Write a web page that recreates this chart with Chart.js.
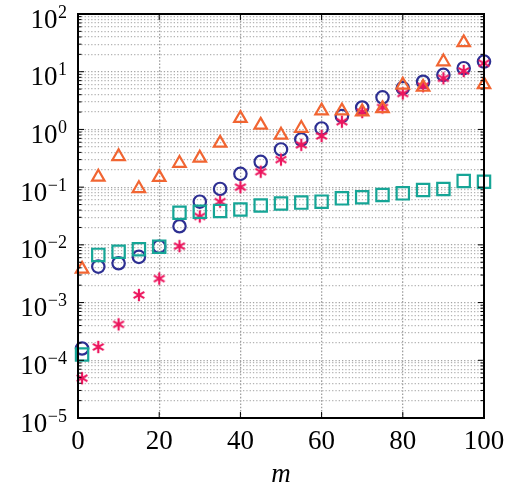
<!DOCTYPE html>
<html>
<head>
  <title>Log scatter</title>
  <script src="https://cdn.jsdelivr.net/npm/chart.js"></script>
  <style>
    body { margin: 0; background: #fff; }
  </style>
</head>
<body>
<canvas id="myChart" width="508" height="490"></canvas>

<script>
// data
var mValues = [1, 5, 10, 15, 20, 25, 30, 35, 40, 45, 50, 55, 60, 65, 70, 75, 80, 85, 90, 95, 100];
var triangles = [0.0038, 0.15, 0.34, 0.095, 0.148, 0.26, 0.32, 0.58, 1.56, 1.19, 0.80, 1.05, 2.1, 2.1, 2.03, 2.3, 5.9, 5.4, 14.9, 32, 6.0];
var circles = [1.6e-4, 0.0042, 0.0048, 0.0062, 0.0093, 0.021, 0.056, 0.093, 0.17, 0.275, 0.45, 0.67, 1.04, 1.7, 2.4, 3.6, 5.2, 6.7, 8.8, 11.5, 15];
var asterisks = [4.9e-5, 1.7e-4, 4.2e-4, 1.35e-3, 2.6e-3, 0.0095, 0.031, 0.056, 0.10, 0.185, 0.30, 0.54, 0.77, 1.36, 2.0, 2.4, 4.2, 5.6, 7.7, 10.3, 14];
var squares = [1.26e-4, 0.0067, 0.0076, 0.0084, 0.0093, 0.036, 0.0375, 0.0385, 0.041, 0.048, 0.052, 0.054, 0.056, 0.064, 0.067, 0.073, 0.078, 0.089, 0.093, 0.128, 0.124];

// tick labels
var xTicks = [0, 20, 40, 60, 80, 100];
var yExponents = [-5, -4, -3, -2, -1, 0, 1, 2];
var xTitle = 'm';

var orange = 'rgb(241,101,50)';
var blue = 'rgb(45,47,146)';
var pink = 'rgb(236,22,94)';
var teal = 'rgb(22,165,150)';
var serif = '"Liberation Serif", "DejaVu Serif", serif';

// all grid values 1..9 x 10^k
var yGrid = [];
yExponents.forEach(function(e, i) {
  for (var k = 1; k <= 9; k++) {
    if (i === yExponents.length - 1 && k > 1) break;
    yGrid.push(k * Math.pow(10, e));
  }
});

function isDecade(v) {
  var l = Math.log10(v);
  return Math.abs(l - Math.round(l)) < 1e-9;
}

function pts(ys) {
  return mValues.map(function(m, i) { return {x: m, y: ys[i]}; });
}

// six-armed asterisk marker
function asterisk(color) {
  var c = document.createElement('canvas');
  c.width = 16; c.height = 16;
  var g = c.getContext('2d');
  g.strokeStyle = color;
  g.lineWidth = 2.2;
  for (var k = 0; k < 3; k++) {
    var a = Math.PI / 2 + k * Math.PI / 3;
    var dx = Math.cos(a) * 6.2, dy = Math.sin(a) * 6.2;
    g.beginPath();
    g.moveTo(8 - dx, 8 - dy);
    g.lineTo(8 + dx, 8 + dy);
    g.stroke();
  }
  return c;
}

function supLabel(ctx, exp, xRight, yPix) {
  var expText = exp < 0 ? '\u2212' + Math.abs(exp) : String(exp);
  ctx.font = '18px ' + serif;
  var wSup = ctx.measureText(expText).width;
  ctx.textAlign = 'left';
  ctx.fillText(expText, xRight - wSup, yPix + 3.5);
  ctx.font = '27px ' + serif;
  ctx.textAlign = 'right';
  ctx.fillText('10', xRight - wSup - 0.5, yPix + 13.5);
}

var framePlugin = {
  id: 'frame',
  afterDraw: function(chart) {
    var ctx = chart.ctx, a = chart.chartArea;
    var xs = chart.scales.x, ys = chart.scales.y;
    ctx.save();
    ctx.strokeStyle = '#000';
    ctx.lineWidth = 1;
    ctx.beginPath();
    yGrid.forEach(function(v) {
      var py = ys.getPixelForValue(v);
      var len = isDecade(v) ? 6 : 3.5;
      ctx.moveTo(a.left, py); ctx.lineTo(a.left + len, py);
      ctx.moveTo(a.right, py); ctx.lineTo(a.right - len, py);
    });
    xTicks.forEach(function(v) {
      var px = xs.getPixelForValue(v);
      ctx.moveTo(px, a.bottom); ctx.lineTo(px, a.bottom - 6);
      ctx.moveTo(px, a.top); ctx.lineTo(px, a.top + 6);
    });
    ctx.stroke();

    ctx.lineWidth = 2;
    ctx.strokeRect(a.left, a.top, a.right - a.left, a.bottom - a.top);

    ctx.fillStyle = '#000';
    ctx.textBaseline = 'alphabetic';
    yExponents.forEach(function(e) {
      supLabel(ctx, e, 67, ys.getPixelForValue(Math.pow(10, e)));
    });
    ctx.font = '27px ' + serif;
    ctx.textAlign = 'center';
    xTicks.forEach(function(v) {
      ctx.fillText(String(v), xs.getPixelForValue(v), 449);
    });
    ctx.font = 'italic 27px ' + serif;
    ctx.fillText(xTitle, (a.left + a.right) / 2, 482);
    ctx.restore();
  }
};

var ctx = document.getElementById('myChart').getContext('2d');
var chart = new Chart(ctx, {
  type: 'scatter',
  data: {
    datasets: [
      {
        label: 'squares',
        data: pts(squares),
        pointStyle: 'rect',
        pointRadius: 8.7,
        borderColor: teal,
        backgroundColor: 'rgba(0,0,0,0)',
        borderWidth: 2.2,
        clip: false
      },
      {
        label: 'triangles',
        data: pts(triangles),
        pointStyle: 'triangle',
        pointRadius: 7.2,
        borderColor: orange,
        backgroundColor: 'rgba(0,0,0,0)',
        borderWidth: 2.2,
        clip: false
      },
      {
        label: 'asterisks',
        data: pts(asterisks),
        pointStyle: asterisk(pink),
        pointRadius: 6,
        borderColor: pink,
        backgroundColor: pink,
        clip: false
      },
      {
        label: 'circles',
        data: pts(circles),
        pointStyle: 'circle',
        pointRadius: 6.2,
        borderColor: blue,
        backgroundColor: 'rgba(0,0,0,0)',
        borderWidth: 2.2,
        clip: false
      }
    ]
  },
  options: {
    responsive: false,
    animation: false,
    devicePixelRatio: 1,
    layout: { padding: { left: 0, right: 24, top: 14, bottom: 0 } },
    plugins: { legend: { display: false }, tooltip: { enabled: false } },
    scales: {
      x: {
        type: 'linear',
        min: 0,
        max: 100,
        afterBuildTicks: function(scale) {
          scale.ticks = xTicks.map(function(v) { return {value: v}; });
        },
        afterFit: function(scale) { scale.height = 72; },
        ticks: { display: false },
        grid: { color: '#a0a0a0', lineWidth: 1.3, drawTicks: false },
        border: { display: false, dash: [1.6, 1.7] }
      },
      y: {
        type: 'logarithmic',
        min: 1e-5,
        max: 100,
        afterBuildTicks: function(scale) {
          scale.ticks = yGrid.map(function(v) { return {value: v}; });
        },
        afterFit: function(scale) { scale.width = 78; },
        ticks: { display: false },
        grid: {
          color: function(c) {
            return c.tick && isDecade(c.tick.value) ? '#a4a4a4' : '#b4b4b4';
          },
          lineWidth: 1.2,
          drawTicks: false
        },
        border: { display: false, dash: [1.3, 2] }
      }
    }
  },
  plugins: [framePlugin]
});
</script>
</body>
</html>
